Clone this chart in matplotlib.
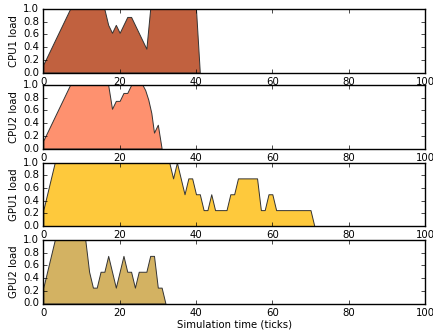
import numpy as np
import matplotlib
matplotlib.use("Agg")
import matplotlib.pyplot as plt

plt.style.use('classic')
plt.rcParams['font.size'] = 7.3
plt.rcParams['font.family'] = 'DejaVu Sans'

# load traces (tick, load)
cpu1_t = [0, 1, 2, 3, 4, 5, 6, 7, 16, 17, 18, 19, 20, 21, 22, 23, 24, 25, 26, 27, 28, 40, 41]
cpu1_v = [0.125, 0.25, 0.375, 0.5, 0.625, 0.75, 0.875, 1.0, 1.0, 0.75, 0.625, 0.75, 0.625,
          0.75, 0.875, 0.875, 0.75, 0.625, 0.5, 0.375, 1.0, 1.0, 0.0]

cpu2_t = [0, 7, 17, 18, 19, 20, 21, 22, 23, 26, 26.7, 27.5, 28.3, 29, 30, 31]
cpu2_v = [0.125, 1.0, 1.0, 0.625, 0.75, 0.75, 0.875, 0.875, 1.0, 1.0, 0.92, 0.77, 0.56,
          0.25, 0.375, 0.0]

gpu1_t = [0, 1, 2, 3, 33, 34, 35, 36, 37, 38, 39, 40, 41, 42, 43, 44, 45, 48, 49, 50, 51,
          56, 57, 58, 59, 60, 61, 70, 71]
gpu1_v = [0.25, 0.5, 0.75, 1.0, 1.0, 0.75, 1.0, 0.75, 0.5, 0.75, 0.75, 0.5, 0.5, 0.25,
          0.25, 0.5, 0.25, 0.25, 0.5, 0.5, 0.75, 0.75, 0.25, 0.25, 0.5, 0.5, 0.25, 0.25, 0.0]

gpu2_t = [0, 1, 2, 3, 11, 12, 13, 14, 15, 16, 17, 18, 19, 20, 21, 22, 23, 24, 25, 27, 28,
          29, 30, 31, 32]
gpu2_v = [0.25, 0.5, 0.75, 1.0, 1.0, 0.5, 0.25, 0.25, 0.5, 0.5, 0.75, 0.5, 0.25, 0.5,
          0.75, 0.5, 0.5, 0.25, 0.5, 0.5, 0.75, 0.75, 0.25, 0.25, 0.0]

series = [
    ('CPU1 load', cpu1_t, cpu1_v, '#c1613f'),
    ('CPU2 load', cpu2_t, cpu2_v, '#fe916f'),
    ('GPU1 load', gpu1_t, gpu1_v, '#fec93c'),
    ('GPU2 load', gpu2_t, gpu2_v, '#d3b262'),
]

fig = plt.figure(figsize=(4.33, 3.31), dpi=100)
fig.patch.set_facecolor('white')

tops = [9, 85, 162.5, 240]
h = 63.5
for (label, t, v, c), top in zip(series, tops):
    ax = fig.add_axes([43.3 / 433, 1 - (top + h) / 331, 381.7 / 433, h / 331])
    ax.fill_between(t, 0, v, facecolor=c, edgecolor='#333333', linewidth=0.7)
    ax.set_xlim(0, 100)
    ax.set_ylim(0, 1)
    ax.set_xticks(np.arange(0, 101, 20))
    ax.set_yticks(np.arange(0, 1.01, 0.2))
    ax.set_ylabel(label, labelpad=3)
    ax.tick_params(length=3, pad=3)

ax.set_xlabel('Simulation time (ticks)', labelpad=1)

fig.savefig('out.png', dpi=100, facecolor='white')
